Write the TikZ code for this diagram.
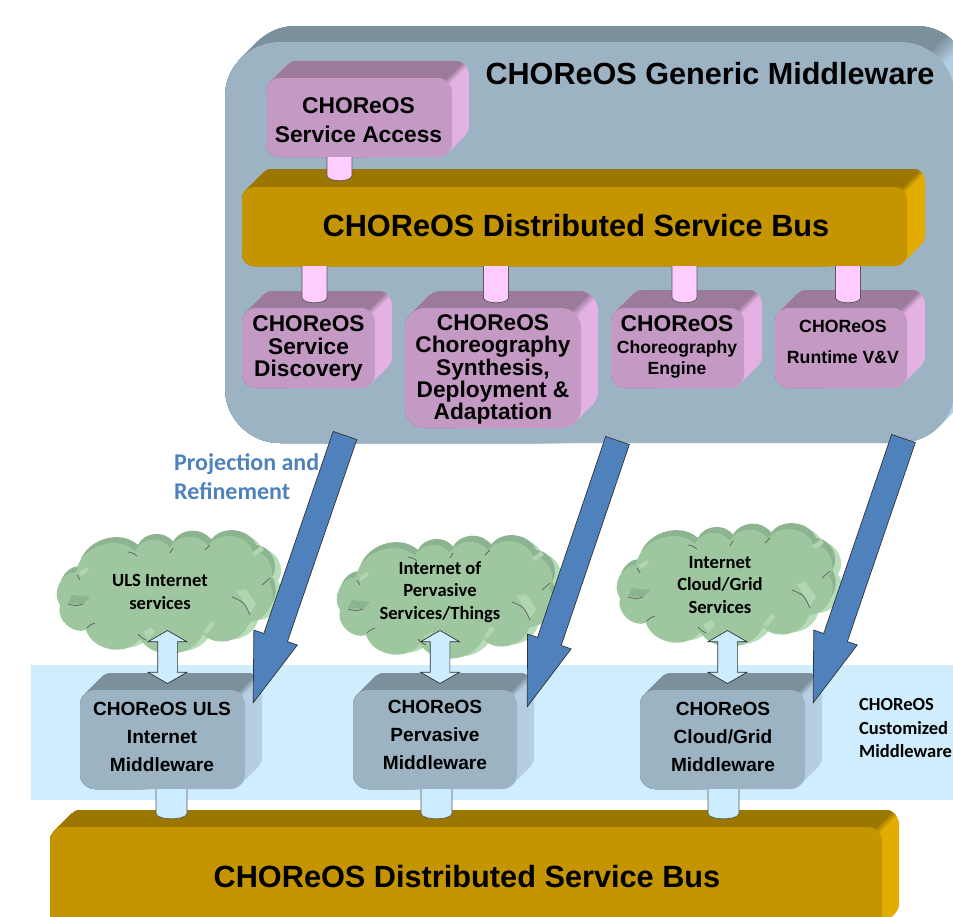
\documentclass[tikz,border=0pt]{standalone}
\usepackage{fontspec}
\setmainfont{Liberation Sans}
\newfontfamily\carlito{Carlito}
\usetikzlibrary{calc,shapes.arrows}

\definecolor{slatefront}{HTML}{9CB3C4}
\definecolor{slatetop}{HTML}{7C8F9C}
\definecolor{slateside}{HTML}{B4CFE3}
\definecolor{busfront}{HTML}{C49500}
\definecolor{bustop}{HTML}{9C7700}
\definecolor{busside}{HTML}{E3AC00}
\definecolor{pinkfront}{HTML}{C49AC4}
\definecolor{pinktop}{HTML}{9C7A9C}
\definecolor{pinkside}{HTML}{E3B2E3}
\definecolor{pipepink}{HTML}{FFCCFF}
\definecolor{pipeblue}{HTML}{CCECFF}
\definecolor{bandblue}{HTML}{CFEDFD}
\definecolor{cloudfront}{HTML}{9EC79F}
\definecolor{cloudtop}{HTML}{8DB490}
\definecolor{cloudside}{HTML}{B6DDB7}
\definecolor{arrowblue}{HTML}{4F81BD}

\tikzset{
  lbl/.style={align=center,inner sep=0pt,text=black},
  cloudlbl/.style={lbl,font=\carlito\bfseries\fontsize{18.6}{22.5}\selectfont},
  pipeline/.style={draw=black!65,line width=0.7pt},
  linkarrow/.style={double arrow,draw=black!80,fill=pipeblue,line width=0.7pt,
    rotate=90,inner xsep=0pt,inner ysep=9.5pt,minimum height=53pt,
    double arrow head extend=9.5pt,double arrow tip angle=120},
  blockarrow/.style={draw=black!80,fill=arrowblue,line width=0.7pt,line join=miter},
  puff/.style={bend left=62,looseness=1.05},
}

% name, x1, y1, x2, y2, radius, depth, colour prefix
\newcommand{\bevelbox}[8]{
  \begin{scope}
    \clip[rounded corners=#6pt] \foreach \s in {0,...,#7}{({#2+\s},{#3-\s}) rectangle ({#4+\s},{#5-\s})};
    \fill[#8side] (#2-20,#3-#7-20) rectangle (#4+#7+20,#5+20);
    \foreach \k in {0,...,8}{
      \pgfmathsetmacro{\mixpc}{\k*12.5}
      \pgfmathsetmacro{\band}{(0.25*#6+1)*(1-\k/4)}
      \fill[#8top!\mixpc!#8side] (#2-20,{#4+#3+\band-#2+20}) -- (#4+#7+20,{#3+\band-#7-20})
        -- (#4+#7+20,#3-#7-60) -- (#2-20,#3-#7-60) -- cycle;
    }
  \end{scope}
  \pgfmathsetmacro{\boxw}{#4-#2}
  \pgfmathsetmacro{\boxh}{#5-#3}
  \node[fill=#8front,rounded corners=#6pt,inner sep=0pt,minimum width=\boxw pt,
    minimum height=\boxh pt] (#1) at ({(#2+#4)/2},{(#3+#5)/2}) {};
}

% from node, to node, centre x, half width, overlap, fill
\newcommand{\pipelink}[6]{
  \coordinate (px) at (#3,0);
  \draw[pipeline,fill=#6] ($(#1.south -| px)+(-#4,0)$)
    -- ($(#2.north -| px)+(-#4,-#5-6)$)
    .. controls ($(#2.north -| px)+(-#4,-#5+1.3)$) and ($(#2.north -| px)+(#4,-#5+1.3)$)
    .. ($(#2.north -| px)+(#4,-#5-6)$)
    -- ($(#1.south -| px)+(#4,0)$);
}

% start coordinate, tip coordinate
\newcommand{\projarrow}[2]{
  \coordinate (hb) at ($(#2)!69pt!(#1)$);
  \draw[blockarrow] ($(#1)!12.5pt!90:(#2)$) -- ($(hb)!12.5pt!90:(#2)$)
    -- ($(hb)!23pt!90:(#2)$) -- (#2) -- ($(hb)!23pt!-90:(#2)$)
    -- ($(hb)!12.5pt!-90:(#2)$) -- ($(#1)!12.5pt!-90:(#2)$) -- cycle;
}

% x offset, y offset, fill
\newcommand{\cloudshape}[3]{
  \fill[#3,shift={(#1,#2)}] (36,52) to[puff] (95,31) to[puff] (130,28) to[puff] (168,26)
    to[puff] (213,31) to[puff] (229,63) to[puff] (209,102) to[puff] (163,114)
    to[puff] (100,119) to[puff] (46,110) to[puff] (20,85) to[puff] (36,52) -- cycle;
}

% x offset, y offset
\newcommand{\cloudbox}[2]{
  \cloudshape{#1+9}{#2-2}{cloudside}
  \cloudshape{#1+3}{#2-6}{cloudtop}
  \cloudshape{#1}{#2}{cloudfront}
  \begin{scope}[shift={(#1,#2)}]
    \fill[cloudside!70!cloudfront] (197,71) -- (206,69) -- (216,84) -- (210,93) -- cycle;
    \fill[cloudside!70!cloudfront] (212,33) -- (221,26) -- (224,30) -- (215,36) -- cycle;
    \fill[cloudside!70!cloudfront] (163,112) -- (171,101) -- (175,104) -- (167,114) -- cycle;
    \fill[cloudside!70!cloudfront] (103,112) -- (111,107) -- (115,112) -- (108,119) -- cycle;
    \fill[cloudside!70!cloudfront] (39,52) -- (47,47) -- (49,50) -- (41,56) -- cycle;
    \fill[cloudtop] (32,75) -- (50,77) -- (44,84) -- (28,83) -- cycle;
    \foreach \ax/\ay/\bx/\by/\cx/\cy in {88/32/93/33/97/36,130/33/131/30/133/28,165/30/167/27/170/25,
        222/65/226/62/230/58,192/77/204/82/210/95,98/114/102/118/106/120,
        47/108/50/105/55/103,28/84/36/86/43/84,37/55/38/58/40/60}
      \draw[black!60,line width=0.8pt] (\ax,\ay) .. controls (\bx,\by) .. (\cx,\cy);
  \end{scope}
}

\begin{document}
\begin{tikzpicture}[x=1pt,y=-1pt]
    \useasboundingbox (0,0) rectangle (953,916);
    \clip (0,0) rectangle (953,916);

    % generic middleware
    \bevelbox{frame}{225}{42}{955}{443}{55}{16}{slate}
    \node[lbl,font=\bfseries\fontsize{30.6}{34}\selectfont] (frameLbl) at (710,74) {CHOReOS Generic Middleware};

    \bevelbox{access}{266}{78}{452}{157}{14}{17}{pink}
    \bevelbox{busUp}{242}{187}{907}{266}{12}{18}{bus}
    \bevelbox{discovery}{242}{308}{375}{388}{14}{17}{pink}
    \bevelbox{synthesis}{405}{308}{581}{428}{20}{17}{pink}
    \bevelbox{engine}{611}{308}{744}{388}{14}{18}{pink}
    \bevelbox{runtime}{775}{308}{907}{388}{14}{18}{pink}

    \pipelink{access}{busUp}{339.5}{12.5}{5.5}{pipepink}
    \pipelink{busUp}{discovery}{314.5}{12.5}{4.5}{pipepink}
    \pipelink{busUp}{synthesis}{496}{12.5}{4.5}{pipepink}
    \pipelink{busUp}{engine}{684.5}{12.5}{4.5}{pipepink}
    \pipelink{busUp}{runtime}{848}{12.5}{4.5}{pipepink}

    \node[lbl,font=\bfseries\fontsize{22.8}{29}\selectfont] (accessLbl) at (358.5,120) {CHOReOS\\Service Access};
    \node[lbl,font=\bfseries\fontsize{30.7}{34}\selectfont] (busUpLbl) at (576,226) {CHOReOS Distributed Service Bus};
    \node[lbl,font=\bfseries\fontsize{22.7}{22.7}\selectfont] (discoveryLbl) at (308.5,348.5) {CHOReOS\\Service\\Discovery};
    \node[lbl,font=\bfseries\fontsize{22.7}{22.3}\selectfont] (synthesisLbl) at (493,369.5) {CHOReOS\\Choreography\\Synthesis,\\Deployment \&\\Adaptation};
    \node[lbl,font=\bfseries\fontsize{17.6}{21}\selectfont] (engineLbl) at (677,347) {{\fontsize{22.8}{24}\selectfont CHOReOS}\\[1pt]Choreography\\Engine};
    \node[lbl,font=\bfseries\fontsize{17.7}{31}\selectfont] (runtimeLbl) at (843,342) {CHOReOS\\Runtime V\&V};

    % customized middleware
    \fill[bandblue] (31,665) rectangle (953,800);
    \bevelbox{busDown}{50}{827}{882}{935}{14}{17}{bus}
    \bevelbox{mwA}{80}{690}{245}{789}{15}{17}{slate}
    \bevelbox{mwB}{353}{690}{517}{789}{15}{17}{slate}
    \bevelbox{mwC}{640}{690}{805}{789}{15}{17}{slate}

    \pipelink{mwA}{busDown}{171.5}{15.5}{7.5}{pipeblue}
    \pipelink{mwB}{busDown}{436.5}{15.5}{7.5}{pipeblue}
    \pipelink{mwC}{busDown}{723.5}{15.5}{7.5}{pipeblue}

    \node[lbl,font=\bfseries\fontsize{19.1}{28}\selectfont] (mwALbl) at (162,737) {CHOReOS ULS\\Internet\\Middleware};
    \node[lbl,font=\bfseries\fontsize{19.1}{28}\selectfont] (mwBLbl) at (435,735) {CHOReOS\\Pervasive\\Middleware};
    \node[lbl,font=\bfseries\fontsize{19.1}{28}\selectfont] (mwCLbl) at (723,737) {CHOReOS\\Cloud/Grid\\Middleware};
    \node[lbl,font=\bfseries\fontsize{30.7}{34}\selectfont] (busDownLbl) at (467,877) {CHOReOS Distributed Service Bus};
    \node[lbl,align=left,anchor=west,font=\carlito\bfseries\fontsize{18.5}{23.5}\selectfont] (customLbl) at (859,728) {CHOReOS\\Customized\\Middleware};

    % services
    \cloudbox{40}{520}
    \cloudbox{320}{525}
    \cloudbox{600}{513}
    \node[cloudlbl] (cloudA) at (160,592) {ULS Internet\\services};
    \node[cloudlbl] (cloudB) at (440,592) {Internet of\\Pervasive\\Services/Things};
    \node[cloudlbl] (cloudC) at (720,585) {Internet\\Cloud/Grid\\Services};

    \node[linkarrow] (linkA) at (167.5,657) {};
    \node[linkarrow] (linkB) at (440,657) {};
    \node[linkarrow] (linkC) at (727.5,657) {};

    % projection
    \coordinate (topA) at (345,435.5);
    \coordinate (topB) at (617.5,440.5);
    \coordinate (topC) at (903.5,438.5);
    \coordinate (tipA) at ($(mwA.north east)+(8,13)$);
    \coordinate (tipB) at ($(mwB.north east)+(10,17)$);
    \coordinate (tipC) at ($(mwC.north east)+(8,13)$);
    \projarrow{topA}{tipA}
    \projarrow{topB}{tipB}
    \projarrow{topC}{tipC}
    \node[lbl,align=left,anchor=west,text=arrowblue,font=\carlito\bfseries\fontsize{24}{29}\selectfont] (projLbl) at (174,477) {Projection and\\Refinement};

\end{tikzpicture}
\end{document}
